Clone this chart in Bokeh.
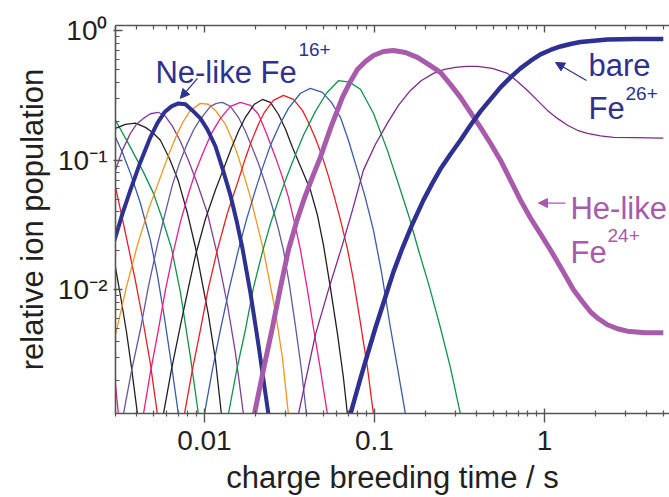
from bokeh.plotting import figure
from bokeh.models import Range1d, LogAxis, FixedTicker, Label, Arrow, NormalHead
from bokeh.embed import file_html
from bokeh.resources import INLINE

# ---------------- data ----------------
t_fe9 = [0.00284, 0.0030, 0.00312]
n_fe9 = [0.00289, 0.00186, 0.0011]

t_fe10 = [0.0028, 0.0030, 0.00321, 0.00348, 0.00372, 0.00404]
n_fe10 = [0.0234, 0.0148, 0.0090, 0.00475, 0.00256, 0.0011]

t_fe11 = [0.0028, 0.0030, 0.00325, 0.00357, 0.00393, 0.00432, 0.00481, 0.00529]
n_fe11 = [0.0915, 0.0620, 0.0384, 0.0214, 0.01173, 0.00609, 0.0027, 0.0011]

t_fe12 = [0.0028, 0.0030, 0.00329, 0.00367, 0.0042, 0.00481, 0.00529, 0.00582, 0.0064, 0.00703]
n_fe12 = [0.179, 0.150, 0.1152, 0.0794, 0.0467, 0.0242, 0.01304, 0.00609, 0.00265, 0.0011]

t_fe13 = [0.0028, 0.0030, 0.00367, 0.00438, 0.00501, 0.00566, 0.0064, 0.00722, 0.00827, 0.00922]
n_fe13 = [0.230, 0.203, 0.126, 0.0809, 0.0557, 0.0352, 0.0210, 0.00965, 0.00305, 0.0011]

t_fe14 = [0.0028, 0.0030, 0.00343, 0.00393, 0.0045, 0.00494, 0.00551, 0.00622, 0.00703, 0.00794,
          0.00885, 0.01056, 0.01161, 0.01259]
n_fe14 = [0.170, 0.176, 0.189, 0.193, 0.179, 0.164, 0.1425, 0.1036, 0.0690, 0.0391,
          0.0214, 0.00642, 0.00289, 0.0011]

t_fe15 = [0.0028, 0.0030, 0.00329, 0.00367, 0.00398, 0.00438, 0.00481, 0.00536, 0.0059, 0.00648,
          0.00722, 0.00805, 0.0091, 0.01041, 0.01192, 0.01366, 0.01522, 0.01696]
n_fe15 = [0.0677, 0.0838, 0.119, 0.161, 0.189, 0.210, 0.228, 0.234, 0.218, 0.183,
          0.140, 0.100, 0.0654, 0.0391, 0.0186, 0.00767, 0.00328, 0.0011]

t_fe16 = [0.0028, 0.0030, 0.00329, 0.00367, 0.0042, 0.00481, 0.00529, 0.00582, 0.0064, 0.00703,
          0.00773, 0.0085, 0.00947, 0.01041, 0.01161, 0.01276, 0.01422, 0.01542, 0.01673, 0.01865,
          0.02078, 0.02379]
n_fe16 = [0.0193, 0.0256, 0.0384, 0.0588, 0.0965, 0.150, 0.193, 0.234, 0.260, 0.274,
          0.270, 0.242, 0.210, 0.173, 0.128, 0.0868, 0.0538, 0.0346, 0.0210, 0.00948,
          0.00378, 0.0011]

t_fe17 = [0.0028, 0.0030, 0.00348, 0.00404, 0.00468, 0.00551, 0.00614, 0.00694, 0.00752, 0.00827,
          0.00947, 0.01056, 0.01161, 0.01329, 0.01461, 0.01585, 0.01865, 0.02224, 0.02616, 0.02876,
          0.0312]
n_fe17 = [0.00305, 0.00451, 0.01054, 0.0222, 0.0412, 0.0740, 0.1093, 0.161, 0.1995, 0.242,
          0.274, 0.270, 0.242, 0.189, 0.1425, 0.1055, 0.0519, 0.0203, 0.00677, 0.0030,
          0.0011]

t_fe18 = [0.00334, 0.00372, 0.0042, 0.00468, 0.00529, 0.0059, 0.00648, 0.00713, 0.00784, 0.00862,
          0.00935, 0.01085, 0.01176, 0.01276, 0.01422, 0.01585, 0.01742, 0.01916, 0.02078, 0.02284,
          0.02512, 0.02724, 0.02915, 0.03162, 0.0343, 0.03721, 0.03981]
n_fe18 = [0.0011, 0.00234, 0.00492, 0.01054, 0.0222, 0.0398, 0.0642, 0.0948, 0.130, 0.170,
          0.203, 0.260, 0.274, 0.279, 0.260, 0.214, 0.167, 0.1237, 0.0948, 0.0654,
          0.0435, 0.02945, 0.0203, 0.01093, 0.00528, 0.00242, 0.0011]

t_fe19 = [0.00438, 0.00481, 0.00536, 0.0059, 0.00657, 0.00722, 0.00805, 0.00885, 0.00973, 0.011,
          0.01242, 0.01422, 0.01628, 0.01865, 0.02078, 0.02315, 0.02616, 0.02876, 0.0312, 0.03383,
          0.03671, 0.04036, 0.04377, 0.04813, 0.05291]
n_fe19 = [0.0011, 0.0023, 0.00492, 0.0100, 0.0196, 0.0333, 0.0548, 0.0809, 0.1112, 0.161,
          0.210, 0.260, 0.279, 0.265, 0.226, 0.161, 0.1055, 0.074, 0.0519, 0.0333,
          0.0203, 0.0100, 0.0051, 0.00242, 0.0011]

t_fe20 = [0.00574, 0.0064, 0.00722, 0.00805, 0.00885, 0.01014, 0.01161, 0.01294, 0.01441, 0.01585,
          0.01742, 0.01968, 0.02194, 0.02444, 0.02724, 0.0300, 0.03292, 0.03671, 0.04203, 0.04621,
          0.05012, 0.05511, 0.0606, 0.06571, 0.06937]
n_fe20 = [0.0011, 0.00242, 0.00528, 0.01036, 0.01826, 0.0352, 0.0588, 0.0853, 0.1237, 0.1671,
          0.214, 0.270, 0.294, 0.279, 0.226, 0.1732, 0.126, 0.0899, 0.0588, 0.03775,
          0.0222, 0.01036, 0.00459, 0.0021, 0.0011]

t_fe21 = [0.00763, 0.0085, 0.00947, 0.01056, 0.01192, 0.01366, 0.01585, 0.01742, 0.0189, 0.02078,
          0.02254, 0.02546, 0.02915, 0.03338, 0.03772, 0.0409, 0.04497, 0.04944, 0.05363, 0.05817,
          0.0631, 0.06937, 0.07524, 0.08272, 0.09096, 0.09865]
n_fe21 = [0.0011, 0.00242, 0.00492, 0.01036, 0.0203, 0.0391, 0.0702, 0.1036, 0.140, 0.1892,
          0.234, 0.289, 0.316, 0.294, 0.242, 0.196, 0.1476, 0.1055, 0.0753, 0.0519,
          0.0346, 0.02067, 0.01194, 0.00557, 0.00251, 0.0011]

t_fe22 = [0.0100, 0.01115, 0.01242, 0.01403, 0.01585, 0.01766, 0.01995, 0.02194, 0.02444, 0.02762,
          0.0312, 0.03671, 0.04203, 0.04944, 0.05585, 0.0631, 0.07032, 0.07943, 0.08853, 0.09865,
          0.1100, 0.1242, 0.1366, 0.1522]
n_fe22 = [0.0011, 0.00242, 0.00492, 0.01036, 0.0203, 0.0346, 0.0588, 0.0868, 0.130, 0.186,
          0.251, 0.328, 0.358, 0.333, 0.279, 0.214, 0.1425, 0.0838, 0.0510, 0.0289,
          0.01375, 0.0051, 0.00251, 0.0011]

t_fe23 = [0.01384, 0.01542, 0.01742, 0.01942, 0.02194, 0.02444, 0.02724, 0.0300, 0.03292, 0.03823,
          0.04497, 0.05219, 0.06142, 0.07127, 0.08272, 0.09865, 0.1192, 0.1422, 0.1606, 0.1815,
          0.2106, 0.2444, 0.2799, 0.3205]
n_fe23 = [0.0011, 0.00234, 0.00492, 0.01036, 0.0196, 0.0322, 0.0492, 0.0702, 0.0965, 0.1557,
          0.238, 0.328, 0.410, 0.400, 0.352, 0.230, 0.119, 0.0588, 0.0358, 0.0203,
          0.01054, 0.0051, 0.00251, 0.0011]

t_fe24 = [0.01968, 0.02224, 0.02512, 0.02799, 0.0312, 0.03477, 0.03875, 0.04318, 0.04813, 0.05511,
          0.06482, 0.07224, 0.07943, 0.08853, 0.09865, 0.1130, 0.1294, 0.1522, 0.1790, 0.2078,
          0.2444, 0.2799, 0.3205, 0.3671, 0.4203, 0.4813, 0.5511, 0.631, 0.7224, 0.8272,
          0.9473, 1.085, 1.242, 1.481, 1.673, 1.865, 2.078, 2.348, 2.688, 3.077,
          3.928, 5.0]
n_fe24 = [0.0011, 0.00242, 0.0051, 0.01036, 0.0203, 0.0333, 0.0510, 0.0740, 0.1055, 0.176,
          0.305, 0.405, 0.501, 0.5775, 0.642, 0.689, 0.702, 0.677, 0.620, 0.548,
          0.475, 0.384, 0.305, 0.234, 0.179, 0.1351, 0.100, 0.0702, 0.0492, 0.0358,
          0.0270, 0.0203, 0.0150, 0.0100, 0.00809, 0.00677, 0.00598, 0.00538, 0.00501, 0.00480,
          0.00467, 0.00467]

t_fe25 = [0.03573, 0.04497, 0.05363, 0.06482, 0.07423, 0.08615, 0.1014, 0.1192, 0.1384, 0.1628,
          0.189, 0.2224, 0.2581, 0.2996, 0.3477, 0.4036, 0.4944, 0.606, 0.6937, 0.7943,
          0.9096, 1.041, 1.192, 1.366, 1.564, 1.790, 2.135, 2.546, 3.43, 5.0]
n_fe25 = [0.0011, 0.00451, 0.0100, 0.0222, 0.0412, 0.0838, 0.1327, 0.193, 0.265, 0.345,
          0.412, 0.467, 0.501, 0.519, 0.5285, 0.5285, 0.510, 0.467, 0.405, 0.345,
          0.289, 0.242, 0.210, 0.186, 0.170, 0.161, 0.154, 0.150, 0.149, 0.148]

t_fe26 = [0.07224, 0.08272, 0.09096, 0.1014, 0.1161, 0.1294, 0.1461, 0.1673, 0.1942, 0.2194,
          0.2444, 0.2799, 0.3205, 0.3671, 0.4203, 0.4813, 0.5511, 0.631, 0.7224, 0.8272,
          0.9473, 1.085, 1.242, 1.422, 1.628, 2.348, 3.43, 5.0]
n_fe26 = [0.0011, 0.00207, 0.00316, 0.0051, 0.00884, 0.01375, 0.0210, 0.0322, 0.0492, 0.0665,
          0.0853, 0.1112, 0.1425, 0.186, 0.238, 0.2945, 0.364, 0.435, 0.510, 0.5825,
          0.654, 0.708, 0.753, 0.787, 0.816, 0.853, 0.860, 0.860]

x_major = [0.01, 0.1, 1]
x_labels = ["0.01", "0.1", "1"]
x_minor = [0.002, 0.003, 0.004, 0.005, 0.006, 0.007, 0.008, 0.009,
           0.02, 0.03, 0.04, 0.05, 0.06, 0.07, 0.08, 0.09,
           0.2, 0.3, 0.4, 0.5, 0.6, 0.7, 0.8, 0.9, 2, 3, 4, 5]
y_major = [0.01, 0.1, 1]
y_labels = ["10\u207b\u00b2", "10\u207b\u00b9", "10\u2070"]
y_minor = [0.002, 0.003, 0.004, 0.005, 0.006, 0.007, 0.008, 0.009,
           0.02, 0.03, 0.04, 0.05, 0.06, 0.07, 0.08, 0.09,
           0.2, 0.3, 0.4, 0.5, 0.6, 0.7, 0.8, 0.9]

# ---------------- styling ----------------
FONT = "Liberation Sans"
NAVY = "#2E3192"
ORCHID = "#A75BAA"
PINK = "#EC1C8C"
BLACK = "#231F20"
RED = "#ED1C24"
BLUE = "#3A5BA9"
GREEN = "#0E9548"
PURPLE = "#7F3F98"
ORANGE = "#F7941D"
SLATE = "#6357A6"
VIOLET = "#80288F"
AXIS = "#555555"

p = figure(width=669, height=497, x_axis_type="log", y_axis_type="log",
           x_range=Range1d(0.003, 5.437), y_range=Range1d(0.001112, 1.093),
           output_backend="svg", toolbar_location=None,
           min_border_left=115, min_border_right=0, min_border_top=25, min_border_bottom=83)
p.outline_line_color = None
p.grid.visible = False
p.background_fill_color = "white"

thin = [(t_fe9, n_fe9, PINK), (t_fe10, n_fe10, BLACK), (t_fe11, n_fe11, RED),
        (t_fe12, n_fe12, BLUE), (t_fe13, n_fe13, GREEN), (t_fe14, n_fe14, BLACK),
        (t_fe15, n_fe15, PURPLE), (t_fe17, n_fe17, ORANGE), (t_fe18, n_fe18, SLATE),
        (t_fe19, n_fe19, PINK), (t_fe20, n_fe20, BLACK), (t_fe21, n_fe21, RED),
        (t_fe22, n_fe22, BLUE), (t_fe23, n_fe23, GREEN), (t_fe25, n_fe25, VIOLET)]
for tx, ny, c in thin:
    p.line(tx, ny, line_color=c, line_width=1.3, line_join="round")

p.line(t_fe16, n_fe16, line_color=NAVY, line_width=4, line_join="round")
p.line(t_fe24, n_fe24, line_color=ORCHID, line_width=5, line_join="round")
p.line(t_fe26, n_fe26, line_color=NAVY, line_width=4.5, line_join="round")

# axes
xa = p.xaxis[0]
xa.ticker = FixedTicker(ticks=x_major, minor_ticks=x_minor)
xa.major_label_overrides = {v: s for v, s in zip(x_major, x_labels)}
ya = p.yaxis[0]
ya.ticker = FixedTicker(ticks=y_major, minor_ticks=y_minor)
ya.major_label_overrides = {v: s for v, s in zip(y_major, y_labels)}

for ax in (xa, ya):
    ax.axis_line_color = AXIS
    ax.axis_line_width = 1.6
    ax.major_tick_line_color = AXIS
    ax.minor_tick_line_color = AXIS
    ax.major_tick_line_width = 1.4
    ax.minor_tick_line_width = 1.2
    ax.major_label_text_font = FONT
    ax.major_label_text_font_size = "28px"
    ax.major_label_text_color = BLACK
    ax.axis_label_text_font = FONT
    ax.axis_label_text_font_size = "31px"
    ax.axis_label_text_font_style = "normal"
    ax.axis_label_text_color = BLACK

xa.major_tick_in = 5
xa.major_tick_out = 9
xa.minor_tick_in = 3
xa.minor_tick_out = 3
xa.major_label_standoff = 8
xa.major_label_text_line_height = 1.0
xa.axis_label = "charge breeding time / s"
xa.axis_label_text_line_height = 1.0
xa.axis_label_standoff = 7

ya.major_tick_in = 7
ya.major_tick_out = 2
ya.minor_tick_in = 4
ya.minor_tick_out = 0
ya.major_label_standoff = 6
ya.axis_label = "relative ion population"
ya.axis_label_standoff = 5

top = LogAxis(ticker=FixedTicker(ticks=x_major, minor_ticks=x_minor),
              major_label_overrides={v: "" for v in x_major},
              major_label_text_font_size="0px", major_label_standoff=0,
              axis_line_color=AXIS, axis_line_width=1.6,
              major_tick_line_color=AXIS, minor_tick_line_color=AXIS,
              major_tick_line_width=1.4, minor_tick_line_width=1.2,
              major_tick_in=7, major_tick_out=0, minor_tick_in=4, minor_tick_out=0)
p.add_layout(top, "above")

# annotations
def txt(x, y, s, color, size):
    p.add_layout(Label(x=x, y=y, text=s, text_align="left", text_baseline="alphabetic",
                       y_offset=10, text_font=FONT, text_font_size=size, text_color=color))

txt(0.00515, 0.398, "Ne-like Fe", NAVY, "31px")
txt(0.0357, 0.60, "16+", NAVY, "19px")
txt(1.815, 0.451, "bare", NAVY, "31px")
txt(1.815, 0.2104, "Fe", NAVY, "31px")
txt(2.996, 0.274, "26+", NAVY, "19px")
txt(1.422, 0.0358, "He-like", ORCHID, "31px")
txt(1.422, 0.01613, "Fe", ORCHID, "31px")
txt(2.348, 0.0218, "24+", ORCHID, "19px")

p.add_layout(Arrow(x_start=0.0091, y_start=0.427, x_end=0.00722, y_end=0.300,
                   line_color=NAVY, line_width=1.3,
                   end=NormalHead(size=9, fill_color=NAVY, line_color=NAVY)))
p.add_layout(Arrow(x_start=1.766, y_start=0.412, x_end=1.161, y_end=0.567,
                   line_color=NAVY, line_width=1.3,
                   end=NormalHead(size=9, fill_color=NAVY, line_color=NAVY)))
p.add_layout(Arrow(x_start=1.329, y_start=0.0467, x_end=0.922, y_end=0.0467,
                   line_color=ORCHID, line_width=1.3,
                   end=NormalHead(size=9, fill_color=ORCHID, line_color=ORCHID)))

open("out.html", "w").write(file_html(p, INLINE))
